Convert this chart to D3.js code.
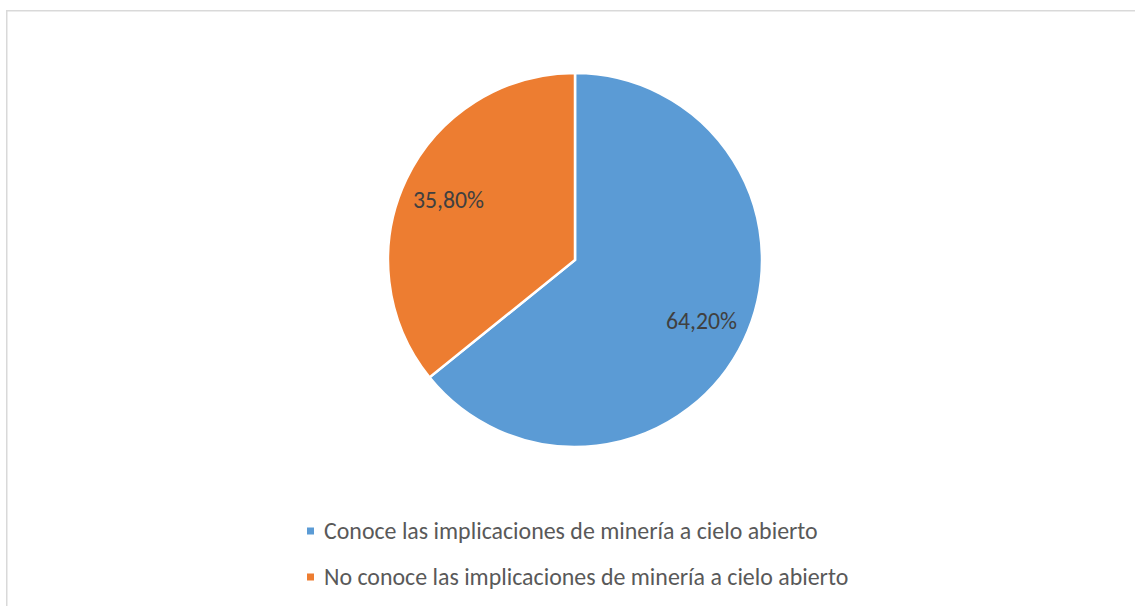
<!DOCTYPE html>
<html>
<head>
	<meta charset="utf-8">
	<title>Minería a cielo abierto</title>
	<style>
		html, body { margin:0; padding:0; background:#fff; }
		body { font-family: Carlito, Calibri, "Liberation Sans", "DejaVu Sans", sans-serif; }
		.lbl { fill:#404040; }
		.leg { fill:#595959; }
	</style>
	<script src="https://d3js.org/d3.v7.min.js"></script>
</head>
<body>
<svg id="chart"></svg>
<script>

	//data
	var categorias = ["Conoce las implicaciones de minería a cielo abierto", "No conoce las implicaciones de minería a cielo abierto"];
	var valores = [64.2, 35.8];
	var etiquetas = ["64,20%", "35,80%"];
	var colores = ["#5B9BD5", "#ED7D31"];

	var width = 1135, height = 606;
	var svg = d3.select("#chart").attr("width", width).attr("height", height);

	//frame
	svg.append("rect").attr("x", 6.75).attr("y", 10.75).attr("width", 1140).attr("height", 620)
		.style("fill", "#fff").style("stroke", "#d9d9d9").style("stroke-width", 1.5);

	var cx = 575, cy = 260, r = 187;
	var g = svg.append("g").attr("transform", "translate(" + cx + "," + cy + ")");

	var pie = d3.pie().sort(null).value(function(d){ return d; });
	var arcs = pie(valores);
	var arc = d3.arc().innerRadius(0).outerRadius(r);
	var lblArc = d3.arc().innerRadius(r*0.75).outerRadius(r*0.75);

	g.selectAll("path").data(arcs).enter().append("path")
		.attr("d", arc)
		.style("fill", function(d,i){ return colores[i]; })
		.style("stroke", "#fff").style("stroke-width", 2.5).style("stroke-linejoin", "miter");

	g.selectAll("text").data(arcs).enter().append("text")
		.attr("class", "lbl")
		.attr("transform", function(d){ return "translate(" + lblArc.centroid(d) + ")"; })
		.attr("text-anchor", "middle").attr("dy", "0.35em")
		.style("font-size", "18px")
		.text(function(d,i){ return etiquetas[i]; });

	//legend
	var lg = svg.append("g");
	var legY = [531, 577];
	categorias.forEach(function(c,i){
		lg.append("rect").attr("x", 307).attr("y", legY[i]-3.5).attr("width", 7).attr("height", 7).style("fill", colores[i]);
		lg.append("text").attr("class", "leg").attr("x", 324).attr("y", legY[i]).attr("dy", "0.35em")
			.style("font-size", "18px").text(c);
	});

	//fit legend width to reference (~494px for first row)
	var t0 = lg.select("text").node();
	var w0 = t0.getComputedTextLength();
	var fs = 18 * 494 / w0;
	lg.selectAll("text").style("font-size", fs + "px");
	var lt = g.select("text").node();
	var lw = lt.getComputedTextLength();
	g.selectAll("text").style("font-size", (18 * 71 / lw) + "px");

</script>
</body>
</html>
